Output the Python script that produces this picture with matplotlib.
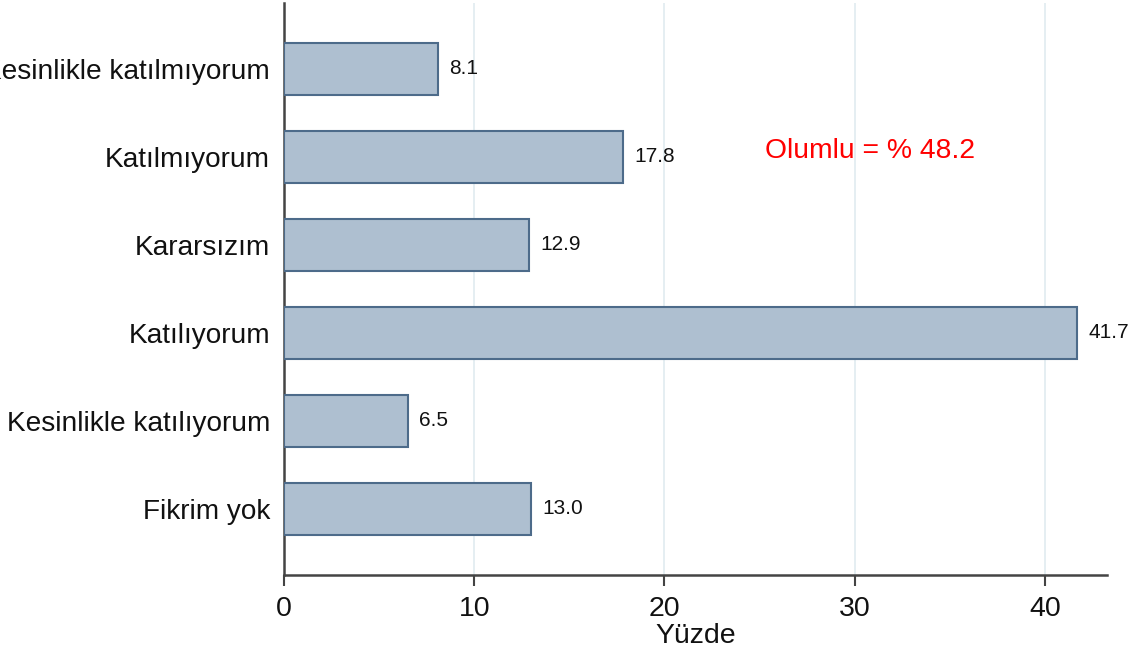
import matplotlib.pyplot as plt

plt.rcParams['font.family'] = ['Liberation Sans', 'DejaVu Sans']

categories = ["Kesinlikle katılmıyorum", "Katılmıyorum", "Kararsızım",
              "Katılıyorum", "Kesinlikle katılıyorum", "Fikrim yok"]
values = [8.1, 17.8, 12.9, 41.7, 6.5, 13.0]
value_labels = ["8.1", "17.8", "12.9", "41.7", "6.5", "13.0"]
xticks = [0, 10, 20, 30, 40]
note = "Olumlu = % 48.2"

fig = plt.figure(figsize=(11.37, 6.51), dpi=100)
ax = fig.add_axes([284/1137, 1-575/651, (1107-284)/1137, (575-3)/651])

pos = list(range(len(categories)))
ax.barh(pos, values, height=0.59, color='#aebfd0', edgecolor='#4d6b8a', linewidth=1.5, zorder=3)
for p, v, t in zip(pos, values, value_labels):
    ax.text(v + 0.6, p, t, va='center', ha='left', fontsize=15, color='#111111', zorder=4)

ax.text(25.3, 0.93, note, color='red', fontsize=20.3, va='center', ha='left')

ax.set_ylim(5.75, -0.75)
ax.set_xlim(0, 43.27)
ax.set_yticks(pos)
ax.set_yticklabels(categories, fontsize=20.2, color='#111111')
ax.set_xticks(xticks)
ax.set_xticklabels([str(x) for x in xticks], fontsize=20.5, color='#111111')
ax.tick_params(axis='y', length=0, pad=10)
ax.tick_params(axis='x', length=8, width=1.5, color='#444444', pad=7)
ax.set_xlabel("Yüzde", fontsize=20.5, color='#111111', labelpad=1)

ax.grid(axis='x', color='#e3edf1', linewidth=1.3, zorder=0)
for s in ['top', 'right']:
    ax.spines[s].set_visible(False)
for s in ['left', 'bottom']:
    ax.spines[s].set_color('#444444')
    ax.spines[s].set_linewidth(1.8)

fig.savefig('out.png', dpi=100)
